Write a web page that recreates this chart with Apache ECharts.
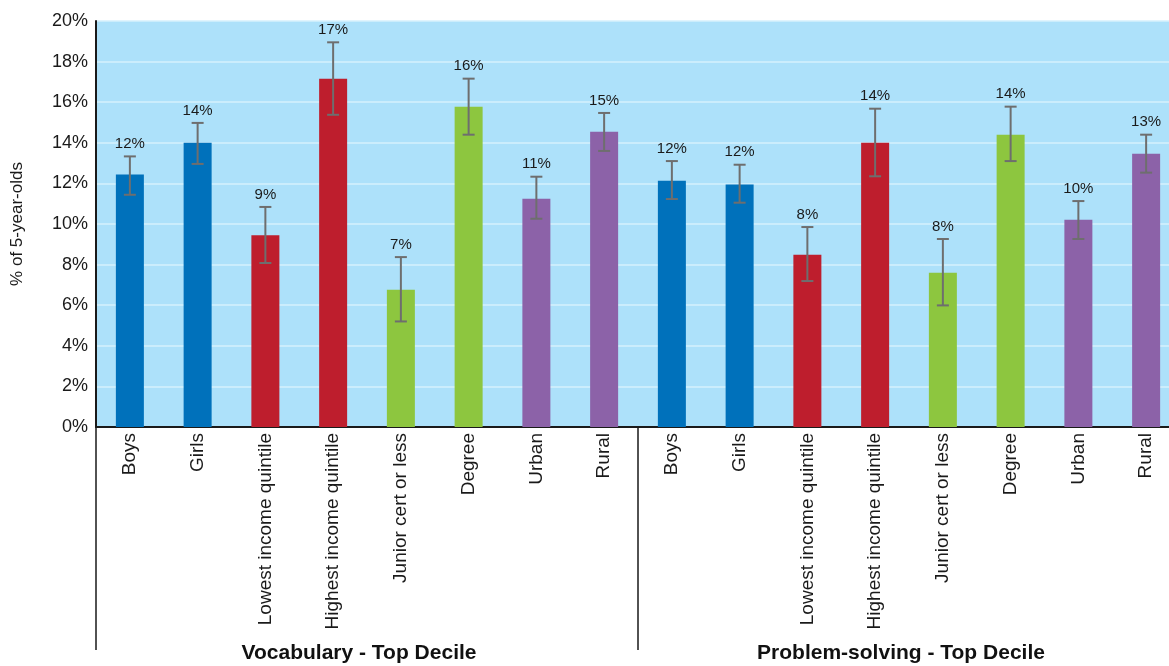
<!DOCTYPE html>
<html><head><meta charset="utf-8">
<script src="https://cdn.jsdelivr.net/npm/echarts/dist/echarts.min.js"></script>
<style>html,body{margin:0;padding:0;background:#fff}#c{width:1169px;height:666px}</style>
</head><body><div id="c"></div>
<script>
const categories = ['Boys','Girls','Lowest income quintile','Highest income quintile','Junior cert or less','Degree','Urban','Rural',
                    'Boys','Girls','Lowest income quintile','Highest income quintile','Junior cert or less','Degree','Urban','Rural'];
const groupTitles = ['Vocabulary - Top Decile','Problem-solving - Top Decile'];
const values  = [12.44,14.0,9.44,17.16,6.76,15.78,11.25,14.55, 12.13,11.94,8.49,14.0,7.6,14.4,10.21,13.46];
const errLow  = [11.44,12.96,8.08,15.38,5.2,14.4,10.26,13.6, 11.23,11.05,7.19,12.35,5.99,13.1,9.26,12.53];
const errHigh = [13.33,14.98,10.84,18.95,8.37,17.16,12.33,15.47, 13.1,12.92,9.85,15.68,9.26,15.78,11.13,14.4];
const barColors = ['#0071BB','#0071BB','#BE1E2D','#BE1E2D','#8DC63F','#8DC63F','#8C62A8','#8C62A8',
                   '#0071BB','#0071BB','#BE1E2D','#BE1E2D','#8DC63F','#8DC63F','#8C62A8','#8C62A8'];
const yMin = 0, yMax = 20, yInterval = 2;

const FONT = '"Liberation Sans", Arial, sans-serif';
const chart = echarts.init(document.getElementById('c'), null, {renderer:'canvas'});
chart.setOption({
  animation: false,
  textStyle: {fontFamily: FONT},
  grid: {left: 96, right: -11, top: 21, bottom: 239, outerBoundsMode: 'none', containLabel: false,
         show: true, backgroundColor: '#ADE1FA', borderWidth: 0},
  xAxis: [{
    type: 'category', data: categories, position: 'bottom',
    axisLine: {show: true, lineStyle: {color: '#1a1a1a', width: 2}},
    axisTick: {show: false},
    axisLabel: {rotate: 90, interval: 0, fontSize: 19, margin: 6, color: '#1a1a1a', fontFamily: FONT},
    splitLine: {show: false}
  }, {
    type: 'category', data: groupTitles, position: 'bottom',
    axisLine: {show: false},
    axisTick: {show: true, length: 223, lineStyle: {color: '#1a1a1a', width: 1.5}},
    axisLabel: {margin: 216, fontSize: 21, fontWeight: 'bold', color: '#111', fontFamily: FONT, padding: [0, 16, 0, 0]},
    splitLine: {show: false}
  }],
  yAxis: {
    type: 'value', min: yMin, max: yMax, interval: yInterval,
    name: '% of 5-year-olds', nameLocation: 'middle', nameGap: 70, nameRotate: 90,
    nameTextStyle: {fontSize: 17, color: '#1a1a1a', fontFamily: FONT},
    axisLine: {show: true, lineStyle: {color: '#1a1a1a', width: 2}},
    axisTick: {show: false},
    axisLabel: {formatter: '{value}%', fontSize: 18, margin: 8, color: '#1a1a1a', fontFamily: FONT},
    splitLine: {show: true, lineStyle: {color: '#D6F1FD', width: 1.5}}
  },
  series: [{
    type: 'bar', xAxisIndex: 0, barWidth: 28,
    data: values.map((v, i) => ({value: v, itemStyle: {color: barColors[i]}}))
  }, {
    type: 'custom', xAxisIndex: 0, z: 5,
    data: values.map((v, i) => [i, errLow[i], errHigh[i], v]),
    encode: {x: 0, y: [1, 2]},
    renderItem: function (params, api) {
      const i = api.value(0), lo = api.value(1), hi = api.value(2), v = api.value(3);
      const pHi = api.coord([i, hi]), pLo = api.coord([i, lo]);
      const x = pHi[0], cap = 6;
      const st = {stroke: '#6E6E6E', lineWidth: 2};
      return {type: 'group', children: [
        {type: 'line', shape: {x1: x, y1: pHi[1], x2: x, y2: pLo[1]}, style: st},
        {type: 'line', shape: {x1: x - cap, y1: pHi[1], x2: x + cap, y2: pHi[1]}, style: st},
        {type: 'line', shape: {x1: x - cap, y1: pLo[1], x2: x + cap, y2: pLo[1]}, style: st},
        {type: 'text', x: x, y: pHi[1] - 5, style: {text: Math.round(v) + '%', textAlign: 'center', textVerticalAlign: 'bottom', fontSize: 15, fill: '#1a1a1a', fontFamily: FONT}}
      ]};
    }
  }]
});
</script></body></html>
